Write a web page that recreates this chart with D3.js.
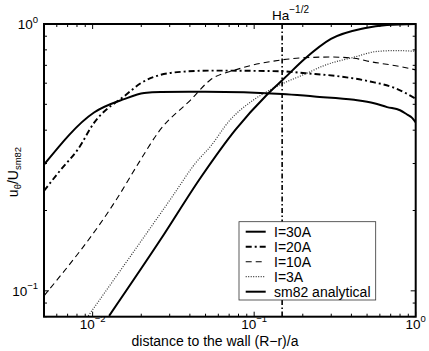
<!DOCTYPE html>
<html>
<head>
<meta charset="utf-8">
<script src="https://cdn.jsdelivr.net/npm/d3@7"></script>
<style>
  html, body { margin: 0; padding: 0; background: #fff; }
  svg { display: block; }
  text { font-family: "Liberation Sans", Arial, Helvetica, sans-serif; fill: #000; }
</style>
</head>
<body>
<svg id="chart" width="429" height="351"></svg>
<script>
// ---- data ----
const i30x = [0.005, 0.0102, 0.01567, 0.02085, 0.0264, 0.05, 0.149, 0.2355, 0.416, 0.553, 0.665, 0.80, 0.884, 0.95, 1.0];
const i30y = [0.297, 0.466, 0.523, 0.551, 0.556, 0.557, 0.547, 0.535, 0.520, 0.505, 0.488, 0.475, 0.458, 0.445, 0.428];

const i20x = [0.005, 0.00637, 0.00808, 0.0102, 0.0161, 0.01987, 0.0264, 0.0367, 0.0537, 0.149, 0.2075, 0.341, 0.522, 0.745, 1.0];
const i20y = [0.237, 0.285, 0.338, 0.426, 0.543, 0.600, 0.645, 0.663, 0.669, 0.665, 0.654, 0.636, 0.609, 0.575, 0.525];

const i10x = [0.005, 0.01426, 0.0195, 0.02576, 0.0405, 0.0537, 0.0767, 0.149, 0.2075, 0.30, 0.416, 0.522, 0.80, 1.0];
const i10y = [0.0958, 0.2233, 0.305, 0.396, 0.520, 0.618, 0.673, 0.734, 0.748, 0.752, 0.744, 0.723, 0.693, 0.673];

const i3x = [0.0094, 0.0312, 0.0435, 0.0537, 0.0697, 0.0994, 0.126, 0.152, 0.2075, 0.268, 0.422, 0.574, 0.75, 1.0];
const i3y = [0.0806, 0.226, 0.302, 0.348, 0.4315, 0.520, 0.567, 0.600, 0.650, 0.697, 0.753, 0.789, 0.795, 0.790];

const smx = [0.01265, 0.0264, 0.0467, 0.0767, 0.120, 0.1525, 0.2075, 0.2988, 0.480, 0.665, 1.0];
const smy = [0.0806, 0.156, 0.266, 0.402, 0.543, 0.623, 0.744, 0.879, 0.964, 0.991, 0.999];

const haX = 0.149;                       // Ha^-1/2
const xMajor = [0.01, 0.1, 1];
const xMajorExp = ["\u22122", "\u22121", "0"];
const yMajor = [0.1, 1];
const yMajorExp = ["\u22121", "0"];
const legendLabels = ["I=30A", "I=20A", "I=10A", "I=3A", "sm82 analytical"];

// ---- layout ----
const svg = d3.select("#chart");
const L = 44, R = 415.7, T = 24, B = 316.7;
const x = d3.scaleLog().domain([0.005, 1]).range([L, R]);
const y = d3.scaleLog().domain([0.08, 1]).range([B, T]);

const styles = [
  { w: 2.0, dash: null, color: "#000" },
  { w: 1.9, dash: "6,3,2,3", color: "#000" },
  { w: 1.1, dash: "6,4", color: "#000" },
  { w: 1.2, dash: "1,1.5", color: "#333" },
  { w: 2.0, dash: null, color: "#000" }
];
const series = [
  i30x.map((v, i) => [v, i30y[i]]),
  i20x.map((v, i) => [v, i20y[i]]),
  i10x.map((v, i) => [v, i10y[i]]),
  i3x.map((v, i) => [v, i3y[i]]),
  smx.map((v, i) => [v, smy[i]])
];

svg.append("defs").append("clipPath").attr("id", "clip")
  .append("rect").attr("x", L).attr("y", T).attr("width", R - L).attr("height", B - T);

const line = d3.line().x(d => x(d[0])).y(d => y(d[1])).curve(d3.curveMonotoneX);
const g = svg.append("g").attr("clip-path", "url(#clip)");
series.forEach((s, i) => {
  g.append("path").attr("d", line(s)).attr("fill", "none")
    .attr("stroke", styles[i].color).attr("stroke-width", styles[i].w)
    .attr("stroke-dasharray", styles[i].dash);
});

// vertical Ha^-1/2 line
svg.append("line").attr("x1", x(haX)).attr("x2", x(haX)).attr("y1", T).attr("y2", B)
  .attr("stroke", "#000").attr("stroke-width", 1.6).attr("stroke-dasharray", "5,2.5,1.5,2.5");
const ht = svg.append("text").attr("x", 272).attr("y", 20).attr("font-size", 13.5);
ht.append("tspan").text("Ha");
ht.append("tspan").attr("dy", -7).attr("font-size", 10).text("\u22121/2");

// ---- ticks ----
const xMinor = [];
[0.001, 0.01, 0.1].forEach(d => { for (let k = 2; k <= 9; k++) { const v = d * k; if (v >= 0.005 && v <= 1) xMinor.push(v); } });
const yMinor = [];
[0.01, 0.1].forEach(d => { for (let k = 2; k <= 9; k++) { const v = d * k; if (v >= 0.08 && v <= 1) yMinor.push(v); } });

const tk = svg.append("g").attr("stroke", "#000").attr("stroke-width", 1);
function xt(v, len) {
  tk.append("line").attr("x1", x(v)).attr("x2", x(v)).attr("y1", B).attr("y2", B - len);
  tk.append("line").attr("x1", x(v)).attr("x2", x(v)).attr("y1", T).attr("y2", T + len);
}
function yt(v, len) {
  tk.append("line").attr("y1", y(v)).attr("y2", y(v)).attr("x1", L).attr("x2", L + len);
  tk.append("line").attr("y1", y(v)).attr("y2", y(v)).attr("x1", R).attr("x2", R - len);
}
xMinor.forEach(v => xt(v, 3));
xMajor.forEach(v => xt(v, 5));
yMinor.forEach(v => yt(v, 3));
yMajor.forEach(v => yt(v, 5));

// tick labels
xMajor.forEach((v, i) => {
  const t = svg.append("text").attr("x", x(v)).attr("y", 328.5).attr("text-anchor", "middle").attr("font-size", 13.5);
  t.append("tspan").text("10");
  t.append("tspan").attr("dy", -6.5).attr("font-size", 9.5).text(xMajorExp[i]);
});
yMajor.forEach((v, i) => {
  const t = svg.append("text").attr("x", 38).attr("y", y(v) + 5).attr("text-anchor", "end").attr("font-size", 13.5);
  t.append("tspan").text("10");
  t.append("tspan").attr("dy", -6.5).attr("font-size", 9.5).text(yMajorExp[i]);
});

// axis labels
svg.append("text").attr("x", 215).attr("y", 346).attr("text-anchor", "middle").attr("font-size", 14)
  .text("distance to the wall (R\u2212r)/a");
const yl = svg.append("text").attr("transform", "translate(18,172) rotate(-90)")
  .attr("text-anchor", "middle").attr("font-size", 14);
yl.append("tspan").text("u");
yl.append("tspan").attr("dy", 3).attr("font-size", 9.5).text("\u03b8");
yl.append("tspan").attr("dy", -3).text("/U");
yl.append("tspan").attr("dy", 3).attr("font-size", 9.5).text("sm82");

// ---- legend ----
const lg = svg.append("g");
lg.append("rect").attr("x", 239).attr("y", 221.7).attr("width", 136.7).attr("height", 78.3)
  .attr("fill", "#fff").attr("stroke", "#333").attr("stroke-width", 0.8);
legendLabels.forEach((lab, i) => {
  const yy = 231.7 + i * 15;
  lg.append("line").attr("x1", 245.7).attr("x2", 265.7).attr("y1", yy).attr("y2", yy)
    .attr("stroke", styles[i].color).attr("stroke-width", styles[i].w)
    .attr("stroke-dasharray", styles[i].dash);
  lg.append("text").attr("x", 274).attr("y", yy + 5).attr("font-size", 14).text(lab);
});

// ---- box ----
svg.append("rect").attr("x", L).attr("y", T).attr("width", R - L).attr("height", B - T)
  .attr("fill", "none").attr("stroke", "#000").attr("stroke-width", 2);
</script>
</body>
</html>
